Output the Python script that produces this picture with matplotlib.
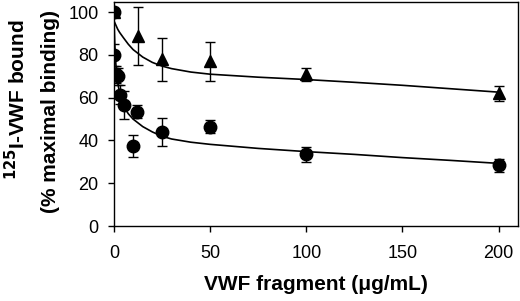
import matplotlib
matplotlib.use("Agg")
import matplotlib.pyplot as plt

plt.rcParams['font.family'] = ['Liberation Sans', 'DejaVu Sans']

# fragment concentration (ug/mL) and % bound, circles
circ_x = [0, 0, 1, 2, 3, 5, 10, 12, 25, 50, 100, 200]
circ_y = [100, 80, 71, 70, 61.5, 56.5, 37.5, 53.5, 44, 46.5, 33.5, 28.5]
circ_err = [0, 5, 4, 4, 4.5, 6.5, 5, 3, 6.5, 3, 3.5, 3]

# triangles
tri_x = [0, 12.5, 25, 50, 100, 200]
tri_y = [100, 89, 78, 77, 71, 62]
tri_err = [0, 13.5, 10, 9, 3, 3.5]

# fitted curves
fit_tri_x = [0, 1, 2, 3, 5, 7.5, 10, 15, 20, 25, 30, 40, 50, 75, 100, 125, 150, 175, 200]
fit_tri_y = [96, 94, 92, 90.5, 88, 85, 82.5, 79, 76.5, 74.8, 73.6, 72, 71, 69.6, 68.5, 67.2, 65.8, 64.2, 62.6]
fit_circ_x = [0, 0.5, 1, 1.5, 2, 3, 4, 5, 7.5, 10, 15, 20, 25, 30, 40, 50, 75, 100, 125, 150, 175, 200]
fit_circ_y = [98, 84, 76, 71, 67, 62, 58.5, 56, 52.5, 50, 46.5, 44, 42, 40.7, 39.2, 38.2, 36.3, 34.8, 33.5, 32, 30.7, 29.3]

fig = plt.figure(figsize=(5.2, 3.01), dpi=100)
ax = fig.add_axes([0.219, 0.249, 0.777, 0.744])

ax.plot(fit_tri_x, fit_tri_y, color='black', lw=1.2)
ax.plot(fit_circ_x, fit_circ_y, color='black', lw=1.2)

ax.errorbar(tri_x, tri_y, yerr=tri_err, fmt='^', color='black', ms=9,
            capsize=3.5, elinewidth=1, capthick=1, zorder=3)
ax.errorbar(circ_x, circ_y, yerr=circ_err, fmt='o', color='black', ms=9,
            capsize=3.5, elinewidth=1, capthick=1, zorder=3)

ax.set_xlim(0, 210)
ax.set_ylim(0, 104.7)
ax.set_xticks([0, 50, 100, 150, 200])
ax.set_yticks([0, 20, 40, 60, 80, 100])
ax.tick_params(direction='out', length=4, width=1, labelsize=13)
ax.tick_params(axis='x', pad=10)
ax.tick_params(axis='y', pad=7)
for s in ax.spines.values():
    s.set_linewidth(1)

ax.set_xlabel('VWF fragment (\u03bcg/mL)', fontsize=15, fontweight='bold', labelpad=9)
fig.text(0.031, 0.67, '$\\mathbf{^{125}}$I-VWF bound', rotation=90, ha='center', va='center',
         fontsize=15, fontweight='bold')
fig.text(0.098, 0.628, '(% maximal binding)', rotation=90, ha='center', va='center',
         fontsize=15, fontweight='bold')

fig.savefig('out.png', dpi=100)
